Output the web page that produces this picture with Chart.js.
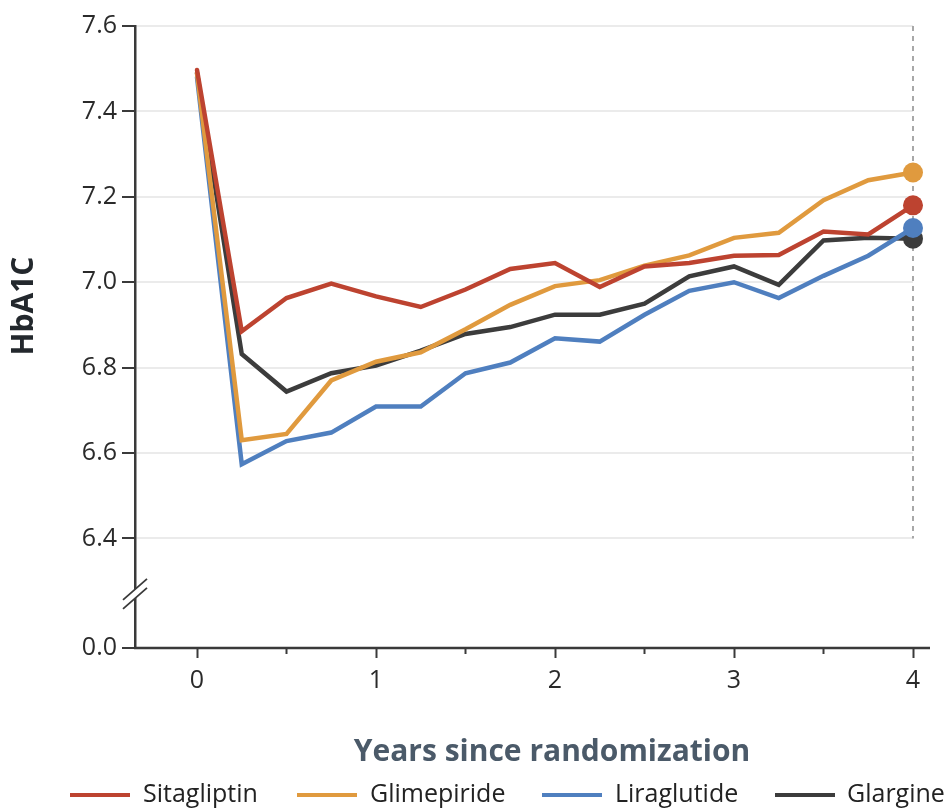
<!DOCTYPE html>
<html>
<head>
<meta charset="utf-8">
<script src="https://cdn.jsdelivr.net/npm/chart.js@4.4.1/dist/chart.umd.min.js"></script>
<style>
  body { margin: 0; background: #fff; }
  canvas { display: block; }
</style>
</head>
<body>
<canvas id="mycanvas" width="951" height="809"></canvas>
<script>
// years since randomization (quarterly visits)
var years = [0, 0.25, 0.5, 0.75, 1, 1.25, 1.5, 1.75, 2, 2.25, 2.5, 2.75, 3, 3.25, 3.5, 3.75, 4];

var sitagliptin = [7.497, 6.885, 6.963, 6.997, 6.967, 6.942, 6.983, 7.031, 7.045, 6.989, 7.037, 7.045, 7.062, 7.064, 7.119, 7.112, 7.180];
var glimepiride = [7.490, 6.630, 6.645, 6.770, 6.814, 6.836, 6.890, 6.947, 6.991, 7.005, 7.039, 7.063, 7.104, 7.116, 7.192, 7.239, 7.257];
var liraglutide = [7.480, 6.574, 6.628, 6.648, 6.709, 6.709, 6.787, 6.812, 6.869, 6.861, 6.924, 6.980, 7.000, 6.963, 7.015, 7.062, 7.127];
var glargine    = [7.490, 6.832, 6.744, 6.787, 6.805, 6.840, 6.879, 6.895, 6.924, 6.924, 6.950, 7.014, 7.037, 6.994, 7.098, 7.104, 7.102];

var seriesNames = ['Sitagliptin', 'Glimepiride', 'Liraglutide', 'Glargine'];
var seriesColors = ['#bd4330', '#e09a3e', '#4f7fbf', '#3c3c3c'];

var xTicks = [0, 0.5, 1, 1.5, 2, 2.5, 3, 3.5, 4];
var yTicks = [0, 6.4, 6.6, 6.8, 7.0, 7.2, 7.4, 7.6];

// the axis is broken below 6.4; 0.0 sits at this value on the scale
var axisFloor = 6.1436;
var breakAt = 6.275;

function toPoints(arr) {
	return years.map(function(x, i) { return { x: x, y: arr[i] }; });
}

var lastIndex = years.length - 1;
var datasets = [sitagliptin, glimepiride, liraglutide, glargine].map(function(arr, i) {
	return {
		label: seriesNames[i],
		data: toPoints(arr),
		borderColor: seriesColors[i],
		backgroundColor: seriesColors[i],
		borderWidth: 4.5,
		borderCapStyle: 'round',
		tension: 0,
		clip: false,
		pointRadius: function(ctx) { return ctx.dataIndex === lastIndex ? 10 : 0; },
		pointBorderWidth: 0,
		pointBackgroundColor: seriesColors[i]
	};
});

var axisColor = '#3a3a3a';

var extras = {
	id: 'extras',
	beforeDatasetsDraw: function(chart) {
		var ctx = chart.ctx, x = chart.scales.x, y = chart.scales.y;
		// dashed marker at year 4
		var px = x.getPixelForValue(4);
		ctx.save();
		ctx.strokeStyle = '#a8a8a8';
		ctx.lineWidth = 2;
		ctx.setLineDash([5, 5]);
		ctx.beginPath();
		ctx.moveTo(px, y.getPixelForValue(7.6));
		ctx.lineTo(px, y.getPixelForValue(6.4));
		ctx.stroke();
		ctx.restore();
	},
	afterDraw: function(chart) {
		var ctx = chart.ctx, x = chart.scales.x, y = chart.scales.y;
		var bottom = chart.chartArea.bottom, left = chart.chartArea.left;
		ctx.save();

		// x axis line, runs a bit past the last tick
		ctx.strokeStyle = axisColor;
		ctx.lineWidth = 2.5;
		ctx.beginPath();
		ctx.moveTo(left - 1, bottom);
		ctx.lineTo(930, bottom);
		ctx.stroke();

		// short minor ticks at half years
		ctx.lineWidth = 2;
		xTicks.forEach(function(v) {
			if (Number.isInteger(v)) return;
			var px = x.getPixelForValue(v);
			ctx.beginPath();
			ctx.moveTo(px, bottom);
			ctx.lineTo(px, bottom + 6);
			ctx.stroke();
		});

		// axis break mark
		var by = y.getPixelForValue(breakAt);
		ctx.fillStyle = '#fff';
		ctx.beginPath();
		ctx.moveTo(left - 12, by + 8);
		ctx.lineTo(left + 12, by - 13);
		ctx.lineTo(left + 12, by - 4);
		ctx.lineTo(left - 12, by + 17);
		ctx.closePath();
		ctx.fill();
		ctx.strokeStyle = axisColor;
		ctx.lineWidth = 1.8;
		ctx.beginPath();
		ctx.moveTo(left - 12, by + 8);
		ctx.lineTo(left + 12, by - 13);
		ctx.moveTo(left - 12, by + 17);
		ctx.lineTo(left + 12, by - 4);
		ctx.stroke();

		// axis titles
		ctx.fillStyle = '#4b5a69';
		ctx.font = 'bold 30px "Open Sans"';
		ctx.textAlign = 'center';
		ctx.textBaseline = 'middle';
		ctx.fillText('Years since randomization', 552, 752, 404);

		ctx.save();
		ctx.translate(24, 306);
		ctx.rotate(-Math.PI / 2);
		ctx.fillStyle = '#23282d';
		ctx.fillText('HbA1C', 0, 0, 100);
		ctx.restore();

		// legend
		var lineX = [70, 297, 542, 775];
		var textX = [143, 370, 615, 847];
		ctx.font = '25px "Open Sans"';
		ctx.textAlign = 'left';
		ctx.lineWidth = 4;
		chart.data.datasets.forEach(function(ds, i) {
			ctx.strokeStyle = ds.borderColor;
			ctx.beginPath();
			ctx.moveTo(lineX[i], 795);
			ctx.lineTo(lineX[i] + 60, 795);
			ctx.stroke();
			ctx.fillStyle = '#222';
			ctx.fillText(ds.label, textX[i], 795);
		});
		ctx.restore();
	}
};

Chart.defaults.font.family = '"Open Sans"';
Chart.defaults.color = '#2a2a2a';

var chart = new Chart(document.getElementById('mycanvas'), {
	type: 'line',
	data: { datasets: datasets },
	options: {
		responsive: false,
		animation: false,
		events: [],
		layout: { padding: { top: 26, right: 38, bottom: 0, left: 0 } },
		plugins: {
			legend: { display: false },
			tooltip: { enabled: false }
		},
		scales: {
			x: {
				type: 'linear',
				min: -0.3464,
				max: 4,
				afterFit: function(s) { s.height = 161; },
				afterBuildTicks: function(s) {
					s.ticks = xTicks.map(function(v) { return { value: v }; });
				},
				ticks: {
					autoSkip: false,
					maxRotation: 0,
					padding: 8,
					font: { size: 25 },
					color: '#2a2a2a',
					callback: function(v) { return Number.isInteger(v) ? String(v) : ''; }
				},
				border: { display: false },
				grid: {
					drawOnChartArea: false,
					tickLength: 10,
					tickWidth: 2,
					tickColor: function(ctx) {
						return ctx.tick && Number.isInteger(ctx.tick.value) ? axisColor : 'rgba(0,0,0,0)';
					}
				}
			},
			y: {
				min: axisFloor,
				max: 7.6,
				afterFit: function(s) { s.width = 135; },
				afterBuildTicks: function(s) {
					s.ticks = yTicks.map(function(v) { return { value: v === 0 ? axisFloor : v }; });
				},
				ticks: {
					padding: 5,
					font: { size: 25 },
					color: '#2a2a2a',
					callback: function(v) { return v === axisFloor ? '0.0' : v.toFixed(1); }
				},
				border: { display: true, color: axisColor, width: 2.5 },
				grid: {
					color: function(ctx) {
						return ctx.tick && ctx.tick.value < 6.3 ? 'rgba(0,0,0,0)' : '#ebebeb';
					},
					lineWidth: 2,
					tickLength: 13,
					tickWidth: 2,
					tickColor: axisColor
				}
			}
		}
	},
	plugins: [extras]
});
</script>
</body>
</html>
